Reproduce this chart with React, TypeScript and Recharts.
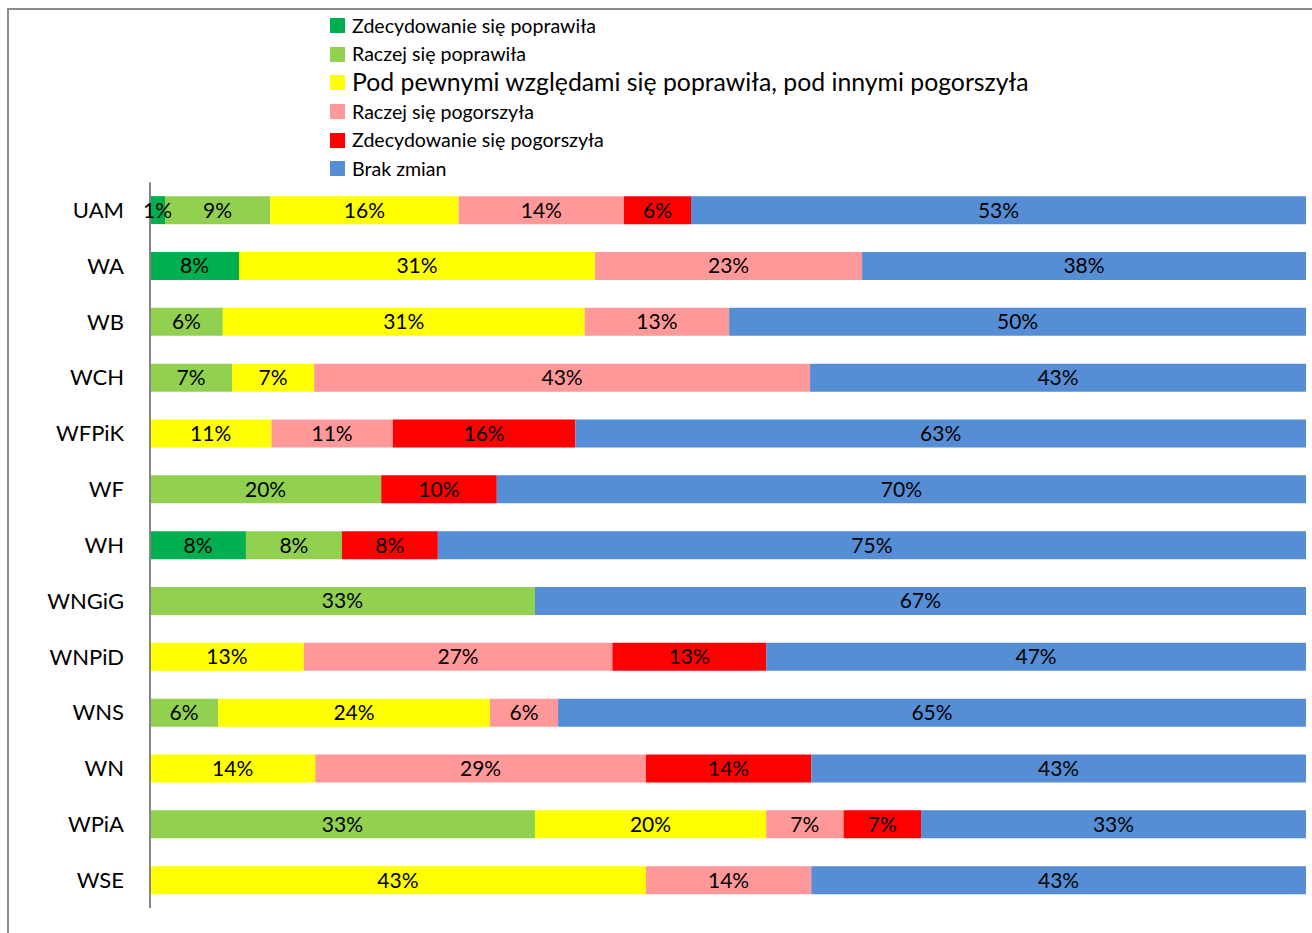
import { Bar, BarChart, LabelList, Legend, XAxis, YAxis } from 'recharts';

const FONT = "Lato, 'Noto Sans', sans-serif";

const categories = ['UAM', 'WA', 'WB', 'WCH', 'WFPiK', 'WF', 'WH', 'WNGiG', 'WNPiD', 'WNS', 'WN', 'WPiA', 'WSE'];

// percentages
const zdecydowaniePoprawila = [1.3, 7.7, 0, 0, 0, 0, 8.3, 0, 0, 0, 0, 0, 0];
const raczejPoprawila = [9.1, 0, 6.3, 7.1, 0, 20, 8.3, 33.3, 0, 5.9, 0, 33.3, 0];
const czesciowo = [16.3, 30.8, 31.3, 7.1, 10.5, 0, 0, 0, 13.3, 23.5, 14.3, 20, 42.9];
const raczejPogorszyla = [14.3, 23.1, 12.5, 42.9, 10.5, 0, 0, 0, 26.7, 5.9, 28.6, 6.7, 14.3];
const zdecydowaniePogorszyla = [5.8, 0, 0, 0, 15.8, 10, 8.3, 0, 13.3, 0, 14.3, 6.7, 0];
const brakZmian = [53.2, 38.4, 49.9, 42.9, 63.2, 70, 75.1, 66.7, 46.7, 64.7, 42.8, 33.3, 42.8];

const SERIES = [
  { key: 'zp', name: 'Zdecydowanie się poprawiła', color: '#00B050', values: zdecydowaniePoprawila, fontSize: 19.6 },
  { key: 'rp', name: 'Raczej się poprawiła', color: '#92D050', values: raczejPoprawila, fontSize: 19.6 },
  { key: 'cz', name: 'Pod pewnymi względami się poprawiła, pod innymi pogorszyła', color: '#FFFF00', values: czesciowo, fontSize: 24.8 },
  { key: 'rg', name: 'Raczej się pogorszyła', color: '#FF9999', values: raczejPogorszyla, fontSize: 19.6 },
  { key: 'zg', name: 'Zdecydowanie się pogorszyła', color: '#FF0000', values: zdecydowaniePogorszyla, fontSize: 19.6 },
  { key: 'bz', name: 'Brak zmian', color: '#558ED5', values: brakZmian, fontSize: 19.6 },
];

const data = categories.map((name, i) => {
  const row: Record<string, string | number> = { name };
  SERIES.forEach((s) => {
    const v = s.values[i];
    row[s.key] = v;
    row[s.key + 'Label'] = v > 0 ? `${Math.round(v)}%` : '';
  });
  return row;
});

const ROW_H = 28.7;

const LegendList = () => (
  <div style={{ fontFamily: FONT, color: '#000' }}>
    {SERIES.map((s) => (
      <div key={s.key} style={{ height: ROW_H, display: 'flex', alignItems: 'center', whiteSpace: 'nowrap' }}>
        <span style={{ width: 15, height: 15, background: s.color, display: 'inline-block', marginRight: 7 }} />
        <span style={{ fontSize: s.fontSize, lineHeight: 1 }}>{s.name}</span>
      </div>
    ))}
  </div>
);

export default function App() {
  return (
    <div style={{ position: 'relative', width: 1312, height: 933, background: '#fff' }}>
      <style>{'body{margin:0;overflow:hidden}'}</style>
      <div
        style={{
          position: 'absolute',
          left: 7,
          top: 8,
          width: 1305,
          height: 925,
          borderLeft: '2px solid #8c8c8c',
          borderTop: '2px solid #8c8c8c',
          boxSizing: 'border-box',
        }}
      />
      <BarChart
        width={1312}
        height={933}
        data={data}
        layout="vertical"
        stackOffset="expand"
        barSize={28}
        margin={{ top: 10, right: 6, bottom: 25, left: 0 }}
      >
        <XAxis type="number" domain={[0, 1]} hide />
        <YAxis
          type="category"
          dataKey="name"
          width={150}
          tickSize={0}
          tickMargin={26}
          tickLine={false}
          axisLine={{ stroke: '#868686', strokeWidth: 2 }}
          tick={{ fill: '#000', fontSize: 22, fontFamily: FONT }}
        />
        <Legend
          layout="horizontal"
          verticalAlign="top"
          align="left"
          wrapperStyle={{ top: 11, left: 330, width: 800 }}
          content={() => <LegendList />}
        />
        {SERIES.map((s) => (
          <Bar key={s.key} dataKey={s.key} name={s.name} stackId="a" fill={s.color} isAnimationActive={false}>
            <LabelList
              dataKey={s.key + 'Label'}
              position="center"
              fill="#000"
              fontSize={21}
              fontFamily={FONT}
            />
          </Bar>
        ))}
      </BarChart>
    </div>
  );
}
